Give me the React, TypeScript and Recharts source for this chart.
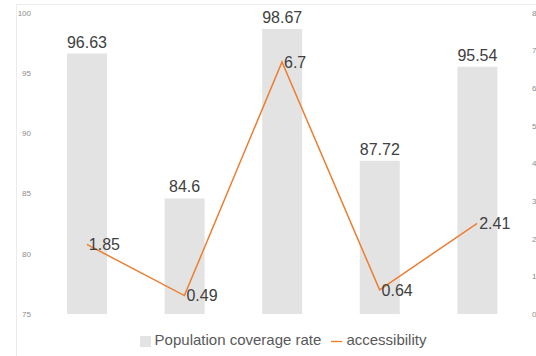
import React from "react";
import {
  ComposedChart,
  Bar,
  Line,
  XAxis,
  YAxis,
  Legend,
  LabelList,
} from "recharts";

const categories = ["A", "B", "C", "D", "E"];
const coverage = [96.63, 84.6, 98.67, 87.72, 95.54];
const accessibility = [1.85, 0.49, 6.7, 0.64, 2.41];
const leftTicks = [75, 80, 85, 90, 95, 100];
const rightTicks = [0, 1, 2, 3, 4, 5, 6, 7, 8];

const data = categories.map((name, i) => ({
  name,
  coverage: coverage[i],
  accessibility: accessibility[i],
}));

const FONT = '"Liberation Sans", Arial, sans-serif';

const App: React.FC = () => {
  return (
    <div
      style={{
        position: "absolute",
        left: 0,
        top: 0,
        width: 536,
        height: 356,
        background: "#fff",
        fontFamily: FONT,
        overflow: "hidden",
      }}
    >
      {/* faint frame lines from the source slide */}
      <div
        style={{
          position: "absolute",
          left: 16,
          top: 4,
          width: 520,
          height: 352,
          borderTop: "1px solid #ebebeb",
          borderLeft: "1px solid #ebebeb",
        }}
      />
      <ComposedChart
        width={536}
        height={356}
        data={data}
        margin={{ top: 13, right: 0, left: 0, bottom: 25 }}
        style={{ position: "absolute", left: 0, top: 0 }}
      >
        <XAxis dataKey="name" hide />
        <YAxis
          yAxisId="left"
          domain={[75, 100]}
          ticks={leftTicks}
          width={38}
          axisLine={false}
          tickLine={false}
          tickSize={5}
          tick={{ fontSize: 8, fill: "#8c8c8c", fontFamily: FONT }}
        />
        <YAxis
          yAxisId="right"
          orientation="right"
          domain={[0, 8]}
          ticks={rightTicks}
          width={10}
          axisLine={false}
          tickLine={false}
          tickSize={4}
          tick={{ fontSize: 8, fill: "#8c8c8c", fontFamily: FONT, textAnchor: "start" }}
        />
        <Legend
          verticalAlign="bottom"
          align="center"
          iconSize={11}
          wrapperStyle={{ fontSize: 15, fontFamily: FONT, color: "#595959", bottom: 8, left: 20 }}
          formatter={(value) => <span style={{ color: "#595959" }}>{value}</span>}
        />
        <Bar
          yAxisId="left"
          dataKey="coverage"
          name="Population coverage rate"
          fill="#e3e3e3"
          barSize={40}
          legendType="square"
          isAnimationActive={false}
        >
          <LabelList
            dataKey="coverage"
            position="top"
            offset={6}
            style={{ fontSize: 16, fill: "#404040", fontFamily: FONT }}
          />
        </Bar>
        <Line
          yAxisId="right"
          dataKey="accessibility"
          name="accessibility"
          type="linear"
          stroke="#ed7d31"
          strokeWidth={1.5}
          dot={false}
          legendType="plainline"
          isAnimationActive={false}
        >
          <LabelList
            dataKey="accessibility"
            position="right"
            offset={2}
            style={{ fontSize: 16, fill: "#404040", fontFamily: FONT }}
          />
        </Line>
      </ComposedChart>
    </div>
  );
};

export default App;
